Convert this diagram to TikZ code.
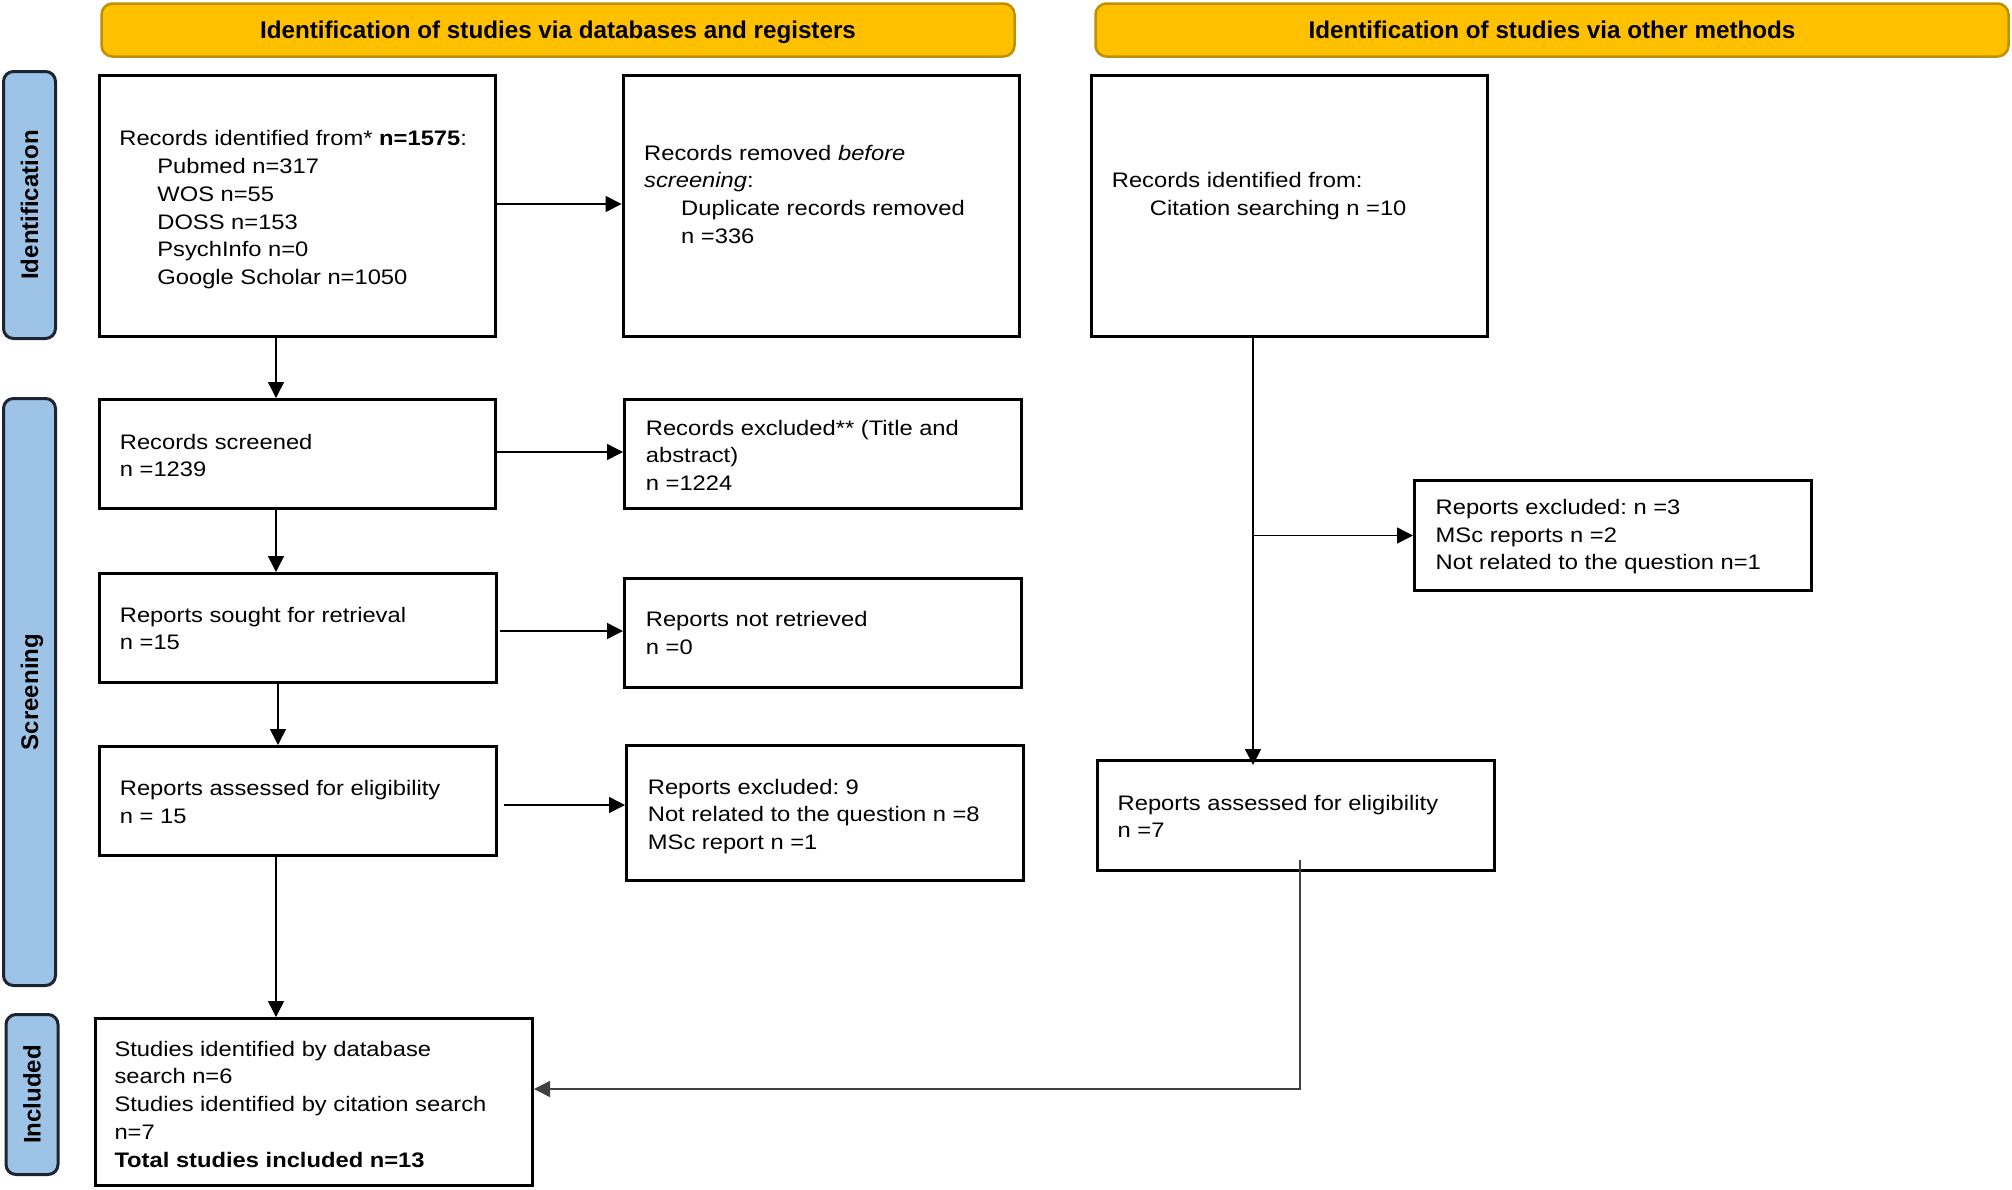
\documentclass[tikz,border=0pt]{standalone}
\usepackage{fontspec}
\usetikzlibrary{arrows.meta,calc}
\newfontfamily\bodyf[FakeStretch=1.13]{Liberation Sans}
\newfontfamily\headf{Liberation Sans}
\definecolor{hdrfill}{HTML}{FFC000}
\definecolor{hdrline}{HTML}{BF9000}
\definecolor{sidefill}{HTML}{9DC3E6}
\definecolor{sideline}{HTML}{1E2430}
\newcommand\myTop{\rule{0pt}{15.2pt}}
\frenchspacing
\begin{document}
\begin{tikzpicture}[x=1pt,y=-1pt,
 box/.style={draw=black, line width=3pt, inner sep=0pt, fill=white},
 hdr/.style={draw=hdrline, fill=hdrfill, line width=2.5pt, rounded corners=11pt, minimum width=913pt, minimum height=53pt, inner sep=0pt, font=\headf\bfseries\fontsize{24.2}{28}\selectfont, text height=17.3pt, text depth=0pt},
 side/.style={draw=sideline, fill=sidefill, line width=3pt, rounded corners=10pt, minimum height=52pt, inner sep=0pt, rotate=90, font=\headf\bfseries\fontsize{24}{28}\selectfont, text height=17.2pt, text depth=0pt},
 txt/.style={anchor=north west, inner sep=0pt, align=left, font=\bodyf\frenchspacing\fontsize{21}{27.7}\selectfont},
 arr/.style={line width=1.5pt, -{Triangle[length=16pt,width=16pt]}},
]
\fill[white] (0,0) rectangle (2012,1189);
\useasboundingbox (0,0) rectangle (2012,1189);

% headers
\node[hdr] (H1) at (558,30) {Identification of studies via databases and registers};
\node[hdr] (H2) at (1552,30) {Identification of studies via other methods};

% side bars
\node[side, minimum width=267pt] (S1) at (29.5,205) {Identification};
\node[side, minimum width=587pt] (S2) at (29.5,692) {Screening};
\node[side, minimum width=160pt] (S3) at (32,1094.5) {Included};

% boxes
\node[box, minimum width=396pt, minimum height=261pt] (B1) at (297.5,206) {};
\node[box, minimum width=396.5pt, minimum height=261pt] (B2) at (821.3,206) {};
\node[box, minimum width=396pt, minimum height=261pt] (B3) at (1289.5,206) {};
\node[box, minimum width=396pt, minimum height=109pt] (B4) at (297.5,454) {};
\node[box, minimum width=397pt, minimum height=109pt] (B5) at (823,454) {};
\node[box, minimum width=397pt, minimum height=109pt] (B6) at (298,628) {};
\node[box, minimum width=397pt, minimum height=109pt] (B7) at (823,633) {};
\node[box, minimum width=397pt, minimum height=109pt] (B8) at (298,801) {};
\node[box, minimum width=397pt, minimum height=135pt] (B9) at (825,813) {};
\node[box, minimum width=397pt, minimum height=110pt] (B10) at (1613,535.5) {};
\node[box, minimum width=397pt, minimum height=110pt] (B11) at (1296,815.5) {};
\node[box, minimum width=437pt, minimum height=167pt] (B12) at (314,1102) {};

% texts
\node[txt] (T1) at (119.2,130.5) {\myTop Records identified from* \textbf{n=1575}:\\\hspace*{38pt}Pubmed n=317\\\hspace*{38pt}WOS n=55\\\hspace*{38pt}DOSS n=153\\\hspace*{38pt}PsychInfo n=0\\\hspace*{38pt}Google Scholar n=1050};
\node[txt] (T2) at (644,144.8) {\myTop Records removed \textit{before}\\\textit{screening}:\\\hspace*{37pt}Duplicate records removed\\\hspace*{37pt}n =336};
\node[txt] (T3) at (1111.7,172.1) {\myTop Records identified from:\\\hspace*{38pt}Citation searching n =10};
\node[txt] (T4) at (119.7,433.8) {\myTop Records screened\\n =1239};
\node[txt] (T5) at (645.7,419.8) {\myTop Records excluded** (Title and\\abstract)\\n =1224};
\node[txt] (T6) at (119.7,606.8) {\myTop Reports sought for retrieval\\n =15};
\node[txt] (T7) at (645.7,611.5) {\myTop Reports not retrieved\\n =0};
\node[txt] (T8) at (119.7,780.5) {\myTop Reports assessed for eligibility\\n = 15};
\node[txt] (T9) at (647.7,778.8) {\myTop Reports excluded: 9\\Not related to the question n =8\\MSc report n =1};
\node[txt] (T10) at (1435.5,499.1) {\myTop Reports excluded: n =3\\MSc reports n =2\\Not related to the question n=1};
\node[txt] (T11) at (1117.5,794.8) {\myTop Reports assessed for eligibility\\n =7};
\node[txt] (T12) at (114.3,1040.8) {\myTop Studies identified by database\\search n=6\\Studies identified by citation search\\n=7\\\textbf{Total studies included n=13}};

% connector helpers
\coordinate (xa) at (276,0);
\coordinate (xb) at (278,0);
\coordinate (xc) at (1253,0);
\coordinate (xd) at (1300,0);
\coordinate (ya) at (0,204);
\coordinate (yb) at (0,452);
\coordinate (yc) at (0,631);
\coordinate (ye) at (0,805);
\coordinate (yd) at (0,1089);

% left column
\draw[arr] (B1.south -| xa) -- (B4.north -| xa);
\draw[arr] (B4.south -| xa) -- (B6.north -| xa);
\draw[arr] (B6.south -| xb) -- (B8.north -| xb);
\draw[arr] (B8.south -| xa) -- (B12.north -| xa);
\draw[arr] (B1.east |- ya) -- (B2.west |- ya);
\draw[arr] (B4.east |- yb) -- (B5.west |- yb);
\draw[arr, shorten <=2pt] (B6.east |- yc) -- (B7.west |- yc);
\draw[arr, shorten <=6pt] (B8.east |- ye) -- (B9.west |- ye);

% right column
\draw[arr, shorten >=-6pt] (B3.south -| xc) -- (B11.north -| xc);
\draw[arr] (xc |- B10.west) -- (B10.west);
\draw[arr, draw=black!75] ($(B11.south -| xd)+(0,-12)$) -- (xd |- yd) -- (B12.east |- yd);
\end{tikzpicture}
\end{document}
